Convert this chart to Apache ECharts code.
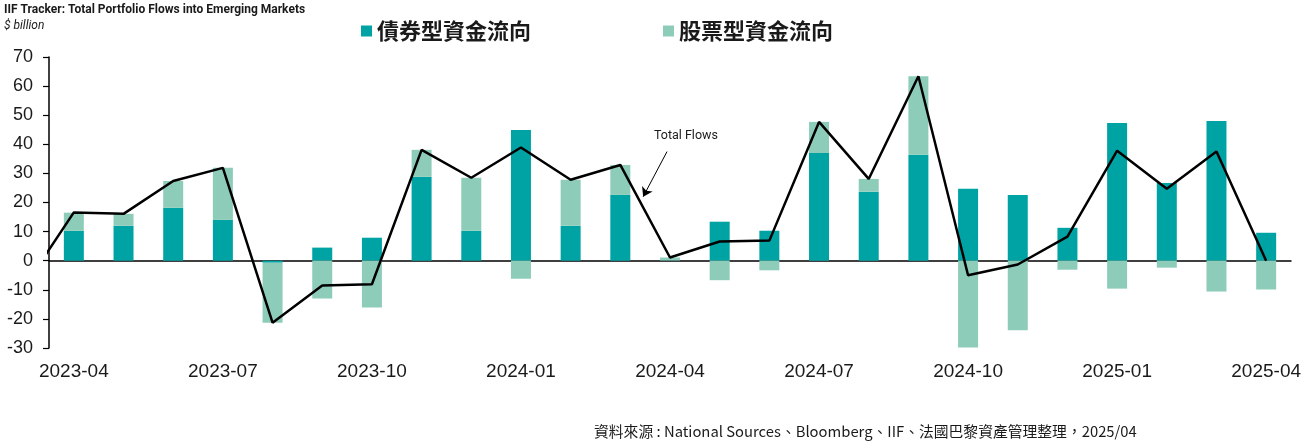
<!DOCTYPE html>
<html lang="zh-Hant">
<head>
    <meta charset="UTF-8">
    <title>IIF Tracker</title>
    <style>
        html, body { margin: 0; padding: 0; background: #fff; }
        #fig { width: 1306px; height: 445px; }
    </style>
    <script src="https://cdn.jsdelivr.net/npm/echarts@6/dist/echarts.min.js"></script>
</head>
<body>
<div id="fig"></div>
<script>
    // 月份
    const months = ['2023-04', '2023-05', '2023-06', '2023-07', '2023-08', '2023-09', '2023-10', '2023-11', '2023-12',
        '2024-01', '2024-02', '2024-03', '2024-04', '2024-05', '2024-06', '2024-07', '2024-08', '2024-09',
        '2024-10', '2024-11', '2024-12', '2025-01', '2025-02', '2025-03', '2025-04'];
    // 債券型 / 股票型 ($ billion)
    const bondFlows = [10.3, 12.0, 18.2, 14.1, -0.7, 4.5, 7.9, 28.8, 10.3,
        44.9, 12.0, 22.6, 0.1, 13.4, 10.3, 37.0, 23.7, 36.4,
        24.7, 22.6, 11.3, 47.3, 26.7, 48.0, 9.6];
    const equityFlows = [6.2, 4.1, 9.2, 17.8, -20.6, -13.0, -16.1, 9.3, 18.2,
        -6.2, 15.8, 10.3, 1.0, -6.7, -3.3, 10.7, 4.4, 27.0,
        -29.8, -23.9, -3.1, -9.6, -2.4, -10.6, -9.9];
    // Total Flows, 第一個值是 2023-03 (圖左邊被裁切)
    const totalPrev = -9.0;
    const totalFlows = [16.6, 16.1, 27.4, 31.9, -21.3, -8.5, -8.1, 38.1, 28.5,
        38.9, 27.8, 32.9, 1.1, 6.6, 6.9, 47.7, 28.1, 63.4,
        -5.0, -1.3, 8.3, 37.8, 24.7, 37.5, 0.0];

    const teal = '#00A3A4';
    const lightTeal = '#8ECCBA';
    const ink = '#1a1a1a';

    let lineData = [[-1, totalPrev]];
    for (let i = 0; i < totalFlows.length; i++) {
        lineData.push([i, totalFlows[i]]);
    }

    let fig = echarts.init(document.getElementById('fig'), null, {renderer: 'canvas'});
    let option = {
        animation: false,
        title: [
            {
                text: 'IIF Tracker: Total Portfolio Flows into Emerging Markets',
                subtext: '$ billion',
                left: 4, top: 4, itemGap: 4, padding: 0,
                textStyle: {fontFamily: 'Roboto', fontSize: 12, fontWeight: 'bold', color: ink},
                subtextStyle: {fontFamily: 'Roboto', fontSize: 12, fontStyle: 'italic', color: ink}
            },
            {
                text: '資料來源 : National Sources、Bloomberg、IIF、法國巴黎資產管理整理，2025/04',
                left: 594, top: 424, padding: 0,
                textStyle: {fontFamily: 'Noto Sans CJK TC', fontSize: 14.8, fontWeight: 'normal', color: ink}
            }
        ],
        legend: {
            left: 356, top: 15,
            itemWidth: 11, itemHeight: 11, itemGap: 132,
            icon: 'rect',
            textStyle: {fontFamily: 'Noto Sans CJK TC', fontSize: 22, fontWeight: 'bold', color: ink, padding: [0, 0, 0, 0]},
            data: ['債券型資金流向', '股票型資金流向']
        },
        grid: {left: 49, right: 15, top: 57, bottom: 97},
        xAxis: [
            {
                type: 'category', data: months, position: 'bottom',
                axisLine: {show: false, onZero: false},
                axisTick: {show: false},
                axisLabel: {interval: 2, margin: 14, fontFamily: 'Liberation Sans', fontSize: 19, color: ink}
            },
            {
                type: 'category', data: months, position: 'bottom',
                axisLine: {onZero: true, lineStyle: {color: '#000', width: 1.5}},
                axisTick: {
                    length: 7, lineStyle: {color: '#000', width: 1.2},
                    interval: function (i) { return i % 3 === 0; }
                },
                axisLabel: {show: false}
            },
            {
                type: 'value', min: -0.5, max: 24.5, show: false
            }
        ],
        yAxis: {
            type: 'value', min: -30, max: 70, interval: 10,
            splitLine: {show: false},
            axisLine: {show: true, onZero: false, lineStyle: {color: '#000', width: 1.5}},
            axisTick: {show: true, length: 6, lineStyle: {color: '#000', width: 1.2}},
            axisLabel: {margin: 16, fontFamily: 'Liberation Sans', fontSize: 18, color: ink}
        },
        series: [
            {
                name: '債券型資金流向', type: 'bar', stack: 'flows', xAxisIndex: 0,
                barWidth: 20, itemStyle: {color: teal}, data: bondFlows
            },
            {
                name: '股票型資金流向', type: 'bar', stack: 'flows', xAxisIndex: 0,
                barWidth: 20, itemStyle: {color: lightTeal}, data: equityFlows
            },
            {
                name: 'Total Flows', type: 'line', xAxisIndex: 2,
                showSymbol: false, symbol: 'none', clip: true,
                lineStyle: {color: '#000', width: 2.5},
                data: lineData,
                markPoint: {
                    symbol: 'rect', symbolSize: [2, 2], silent: true,
                    itemStyle: {color: 'rgba(0,0,0,0)'},
                    label: {
                        show: true, formatter: 'Total Flows', position: 'inside',
                        fontFamily: 'Roboto', fontSize: 12.5, color: ink
                    },
                    data: [{coord: [12.32, 42.9]}]
                },
                markLine: {
                    silent: true, symbol: ['none', 'arrow'], symbolSize: 9,
                    label: {show: false},
                    lineStyle: {color: '#000', width: 1, type: 'solid'},
                    data: [[{coord: [11.94, 37.5]}, {coord: [11.46, 22.0]}]]
                }
            }
        ]
    };
    fig.setOption(option);
</script>
</body>
</html>
